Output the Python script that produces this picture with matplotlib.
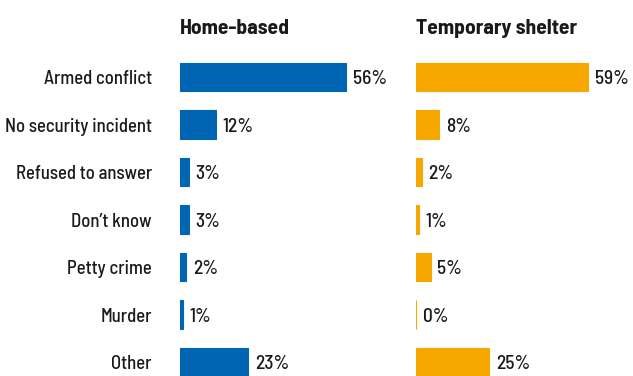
import matplotlib.pyplot as plt

categories = ["Armed conflict", "No security incident", "Refused to answer",
              "Don\u2019t know", "Petty crime", "Murder", "Other"]
home_based = [56, 12, 3, 3, 2, 1, 23]
temporary_shelter = [59, 8, 2, 1, 5, 0, 25]
panel_titles = ["Home-based", "Temporary shelter"]

plt.rcParams["font.family"] = ["Barlow Semi Condensed", "DejaVu Sans"]

fig = plt.figure(figsize=(6.33, 3.76), dpi=100)
ax1 = fig.add_axes([180 / 633, 0, 220 / 633, 0.8584])
ax2 = fig.add_axes([416 / 633, 0, 217 / 633, 0.8584])

for ax, vals, color, title in [(ax1, home_based, "#0066b3", panel_titles[0]),
                               (ax2, temporary_shelter, "#f6a800", panel_titles[1])]:
    ypos = range(len(categories))
    ax.barh(ypos, vals, height=0.6, color=color, edgecolor=color, linewidth=0.8)
    # value labels just right of each bar
    for y, v in zip(ypos, vals):
        ax.text(v + 2.3, y + 0.05, f"{v}%", va="center", ha="left", fontsize=14,
                fontweight="medium", color="#1a1a1a")
    ax.set_xlim(0, 74.3)
    ax.set_ylim(6.295, -0.5)
    ax.axis("off")
    fig.text(ax.get_position().x0, 1 - 29 / 376, title, ha="left", va="center",
             fontsize=15.5, fontweight="bold", color="#1a1a1a")

for y, cat in enumerate(categories):
    ax1.text(-9.5, y + 0.05, cat, ha="right", va="center", fontsize=13.5,
             fontweight="medium", color="#1a1a1a")

fig.savefig("out.png", dpi=100)
